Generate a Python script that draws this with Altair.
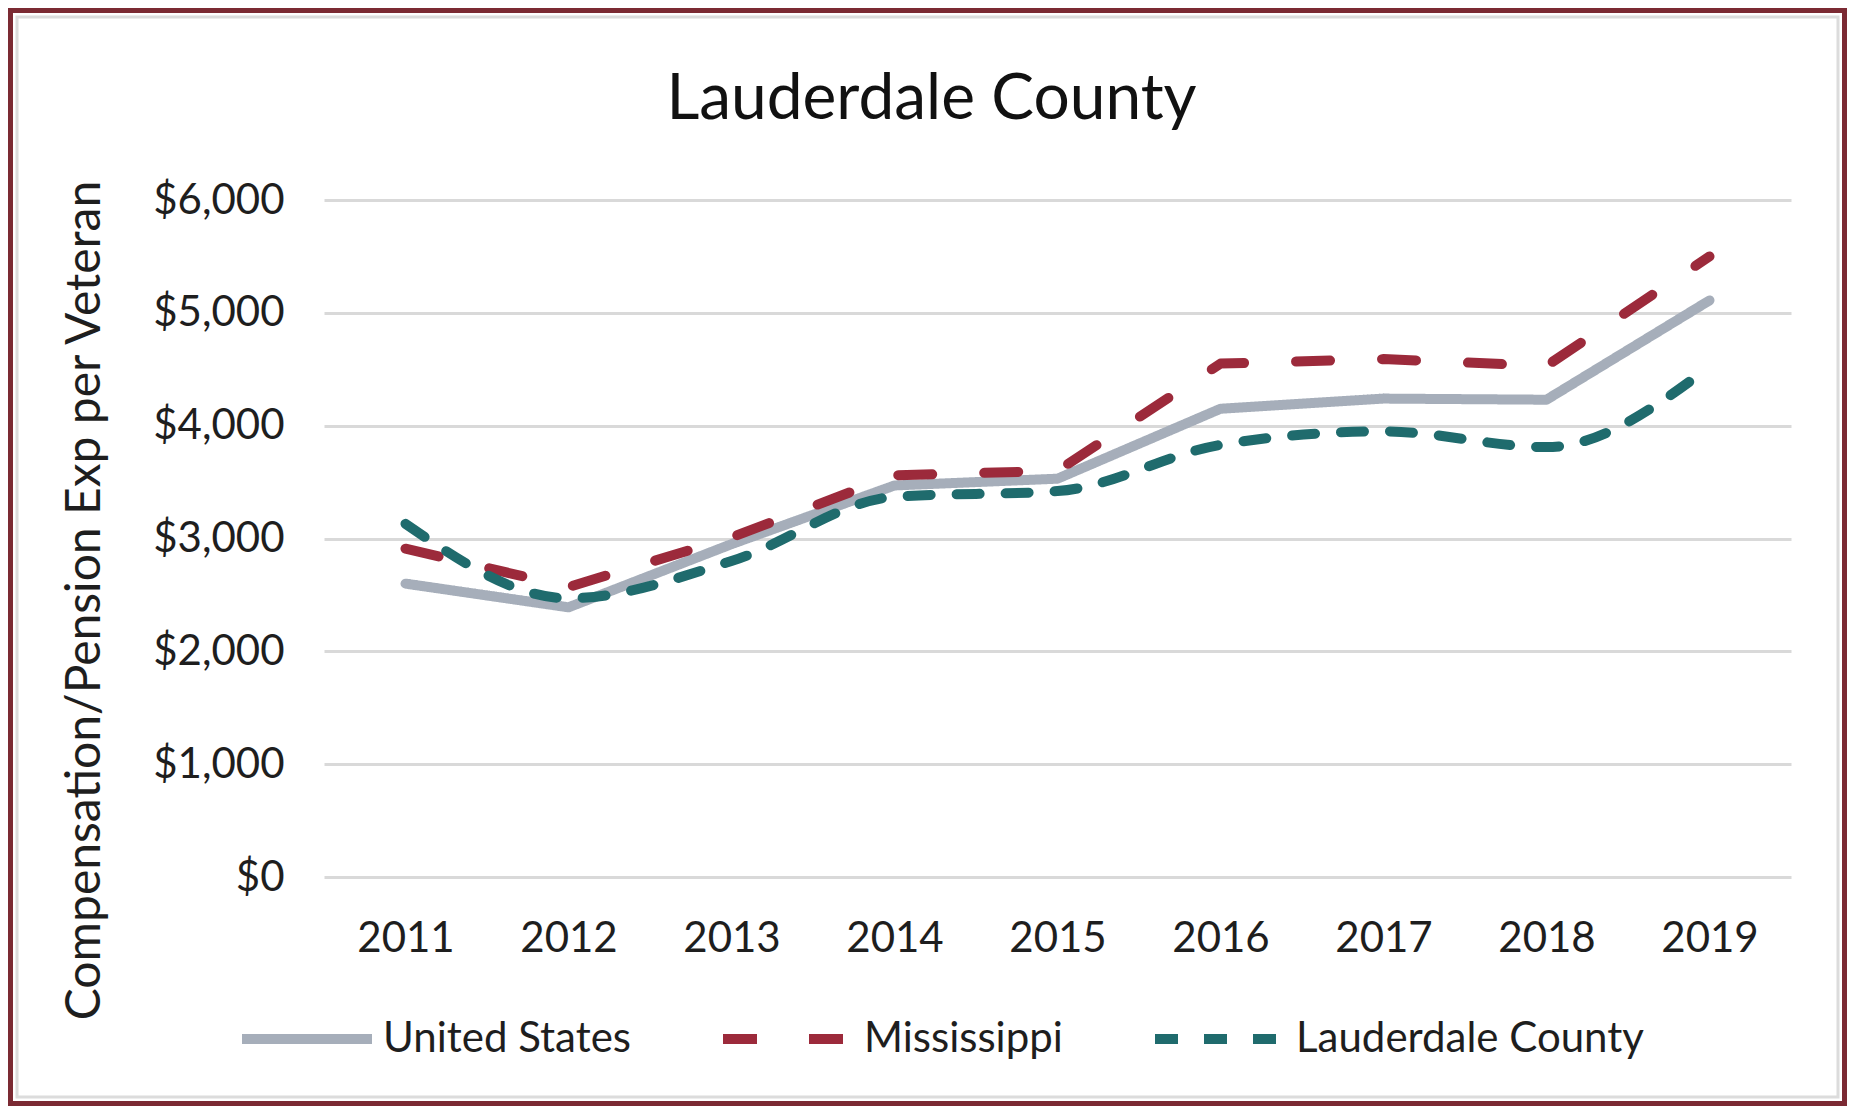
import altair as alt
import pandas as pd

years = ["2011", "2012", "2013", "2014", "2015", "2016", "2017", "2018", "2019"]
series_names = ["United States", "Mississippi", "Lauderdale County"]
us_values = [2600, 2390, 2950, 3470, 3530, 4150, 4240, 4230, 5110]
ms_values = [2910, 2570, 3010, 3560, 3600, 4550, 4590, 4530, 5500]
lc_values = [3130, 2470, 2800, 3370, 3420, 3830, 3950, 3810, 4520]
y_ticks = [0, 1000, 2000, 3000, 4000, 5000, 6000]

colors = ["#A6AEBA", "#9C2A3B", "#1F6B6D"]
dashes = [[1, 0], [34, 52], [23, 26]]

rows = []
for name, vals in zip(series_names, [us_values, ms_values, lc_values]):
    for yr, v in zip(years, vals):
        rows.append({"year": yr, "series": name, "value": v})
df = pd.DataFrame(rows)

FONT = "Lato"
W, H = 1467, 677

legend = alt.Legend(
    title=None, orient="none", legendX=-87, legendY=769, direction="horizontal",
    symbolType="stroke", symbolSize=16900, symbolStrokeWidth=10,
    labelFontSize=42, labelFont=FONT, labelColor="#1E1E1E", labelOffset=6,
    labelLimit=0, columnPadding=72, padding=0,
)

x_enc = alt.X("year:O", sort=years, scale=alt.Scale(type="point", padding=0.5),
              axis=alt.Axis(title=None, labelAngle=0, labelFontSize=42, labelFont=FONT,
                            labelColor="#1E1E1E", grid=False, domain=False, ticks=False,
                            tickSize=0, labelPadding=41))
y_enc = alt.Y("value:Q", scale=alt.Scale(domain=[0, 6000], nice=False),
              axis=alt.Axis(values=y_ticks, format="$,.0f", title="Compensation/Pension Exp per Veteran",
                            labelFontSize=42, labelFont=FONT, labelColor="#1E1E1E",
                            domain=False, ticks=False, tickSize=0, labelPadding=40,
                            grid=True, gridColor="#D9D9D9", gridWidth=3,
                            titleFontSize=48, titleFont=FONT, titleFontWeight="normal",
                            titleColor="#1E1E1E", titleX=-225, titleY=400,
                            titleAngle=270, titleBaseline="alphabetic", titleAlign="center"))
color_enc = alt.Color("series:N", scale=alt.Scale(domain=series_names, range=colors), legend=legend)
dash_enc = alt.StrokeDash("series:N", scale=alt.Scale(domain=series_names, range=dashes), legend=legend)

base = alt.Chart(df)
main_lines = base.transform_filter(
    alt.FieldOneOfPredicate(field="series", oneOf=series_names[:2])
).mark_line(strokeWidth=10, strokeCap="round", strokeJoin="round").encode(
    x=x_enc, y=y_enc, color=color_enc, strokeDash=dash_enc
)
lc_line = base.transform_filter(
    alt.FieldEqualPredicate(field="series", equal=series_names[2])
).mark_line(strokeWidth=10, strokeCap="round", strokeJoin="round", interpolate="monotone").encode(
    x=x_enc, y=y_enc, color=color_enc, strokeDash=dash_enc
)

one = pd.DataFrame({"k": [0]})
border = alt.Chart(one).mark_rect(filled=False, stroke="#7B2A33", strokeWidth=5).encode(
    x=alt.value(-313.5), x2=alt.value(1520.5), y=alt.value(-189.5), y2=alt.value(903.5)
)
inner = alt.Chart(one).mark_rect(filled=False, stroke="#DCDCDC", strokeWidth=3).encode(
    x=alt.value(-307), x2=alt.value(1514), y=alt.value(-183), y2=alt.value(897)
)

chart = alt.layer(border, inner, main_lines, lc_line).properties(
    width=W, height=H, background="white",
    title=alt.TitleParams("Lauderdale County", fontSize=64, font=FONT, fontWeight="normal",
                          color="#111111", anchor="middle", frame="group", dx=-126,
                          baseline="alphabetic", offset=-175),
    autosize=alt.AutoSizeParams(type="none"),
    padding={"left": 316, "top": 192, "right": 56, "bottom": 229},
).configure_view(strokeWidth=0, stroke=None)

chart.save("out.html", embed_options={"renderer": "svg", "actions": False})
